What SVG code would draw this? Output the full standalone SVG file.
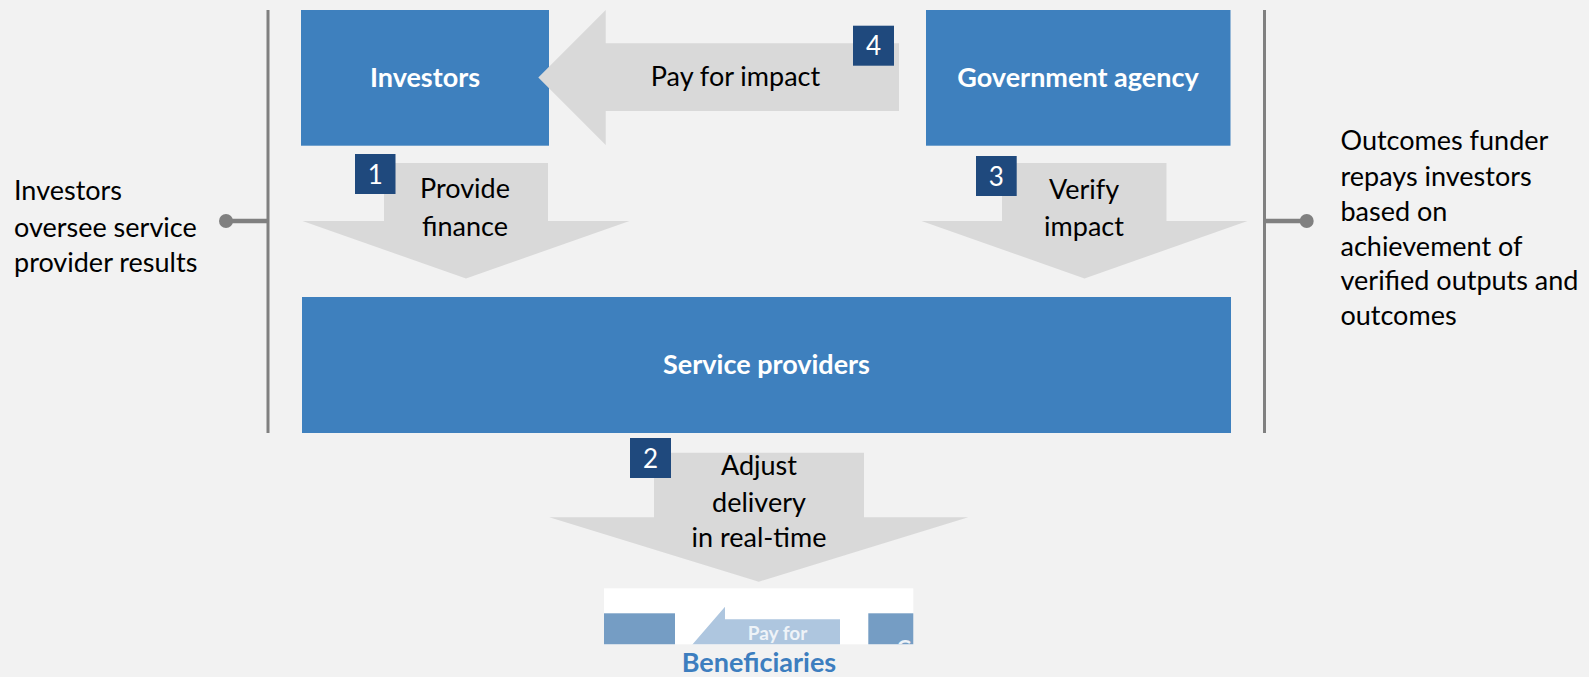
<svg xmlns="http://www.w3.org/2000/svg" width="1589" height="677" viewBox="0 0 1589 677">
<style>
.box{fill:#3e80be}
.arrow{fill:#d9d9d9}
.badge{fill:#1f497d}
.bt{font-family:Lato,"Liberation Sans",sans-serif;font-weight:bold;font-size:27px;fill:#ffffff;text-anchor:middle}
.lbl{font-family:Lato,"Liberation Sans",sans-serif;font-size:27px;fill:#000000;text-anchor:middle}
.side{font-family:Lato,"Liberation Sans",sans-serif;font-size:27px;fill:#000000}
.num{font-family:Lato,"Liberation Sans",sans-serif;font-size:26px;fill:#ffffff;text-anchor:middle}
.rule{stroke:#808080;stroke-width:3;fill:none}
.tick{stroke:#808080;stroke-width:4.5;fill:none}
.dot{fill:#808080}
</style>
<defs>
<clipPath id="thumbClip"><rect x="604" y="588.3" width="309.3" height="56"/></clipPath>
</defs>
<rect x="0" y="0" width="1589" height="677" fill="#f2f2f2"/>

<g id="investors">
<rect class="box" x="301" y="10" width="248" height="135.7"/>
<text class="bt" x="425" y="87">Investors</text>
</g>
<g id="government-agency">
<rect class="box" x="926" y="10" width="304.5" height="135.7"/>
<text class="bt" x="1078" y="87">Government agency</text>
</g>
<g id="service-providers">
<rect class="box" x="302" y="297" width="929" height="136"/>
<text class="bt" x="766.5" y="374">Service providers</text>
</g>

<g id="connectors">
<g id="arrow-4">
<polygon class="arrow" points="538.3,77.5 605.7,10 605.7,43.3 899,43.3 899,111 605.7,111 605.7,145"/>
<text class="lbl" x="735.5" y="86">Pay for impact</text>
<rect class="badge" x="853" y="25.7" width="41" height="40"/>
<text class="num" x="873.5" y="55">4</text>
</g>
<g id="arrow-1">
<polygon class="arrow" points="384,163 548,163 548,221 629.5,221 466,278.5 302.5,221 384,221"/>
<text class="lbl" x="465" y="198">Provide</text>
<text class="lbl" x="465" y="235.5">finance</text>
<rect class="badge" x="355" y="154" width="40.5" height="40"/>
<text class="num" x="375.3" y="183.5">1</text>
</g>
<g id="arrow-3">
<polygon class="arrow" points="1002,163 1166.5,163 1166.5,221 1247.5,221 1084.5,278.5 921.5,221 1002,221"/>
<text class="lbl" x="1084" y="198.5">Verify</text>
<text class="lbl" x="1084" y="235.5">impact</text>
<rect class="badge" x="976" y="156" width="40.7" height="40"/>
<text class="num" x="996.3" y="185.5">3</text>
</g>
<g id="arrow-2">
<polygon class="arrow" points="654,452.7 864,452.7 864,517.3 968.3,517.3 758.8,581.7 549.3,517.3 654,517.3"/>
<text class="lbl" x="759" y="475">Adjust</text>
<text class="lbl" x="759" y="511.5">delivery</text>
<text class="lbl" x="759" y="547">in real-time</text>
<rect class="badge" x="630" y="438" width="41" height="40"/>
<text class="num" x="650.5" y="467.5">2</text>
</g>
<g id="left-bracket">
<line class="rule" x1="268" y1="10" x2="268" y2="433"/>
<line class="tick" x1="226" y1="221" x2="268" y2="221"/>
<circle class="dot" cx="226" cy="221" r="7"/>
</g>
<g id="right-bracket">
<line class="rule" x1="1264.5" y1="10" x2="1264.5" y2="433"/>
<line class="tick" x1="1264.5" y1="221" x2="1306.7" y2="221"/>
<circle class="dot" cx="1306.7" cy="221" r="7"/>
</g>
</g>

<g id="left-note">
<text class="side" x="14" y="200">Investors</text>
<text class="side" x="14" y="236.5">oversee service</text>
<text class="side" x="14" y="272">provider results</text>
</g>
<g id="right-note">
<text class="side" x="1340.5" y="150">Outcomes funder</text>
<text class="side" x="1340.5" y="185.5">repays investors</text>
<text class="side" x="1340.5" y="220.5">based on</text>
<text class="side" x="1340.5" y="255.5">achievement of</text>
<text class="side" x="1340.5" y="289.5">verified outputs and</text>
<text class="side" x="1340.5" y="324.5">outcomes</text>
</g>

<g id="beneficiaries">
<rect x="604" y="588.3" width="309.3" height="56" fill="#ffffff"/>
<g clip-path="url(#thumbClip)">
<rect x="604" y="613.3" width="71" height="32" fill="#759dc4"/>
<polygon points="725,606.7 725,619.3 840,619.3 840,660 725,660 725,700 660,682" fill="#aec6df"/>
<text x="777.5" y="640" font-family="Lato,'Liberation Sans',sans-serif" font-weight="bold" font-size="19px" fill="#eef3f8" text-anchor="middle">Pay for</text>
<rect x="868.3" y="613.3" width="46" height="32" fill="#759dc4"/>
<text x="897" y="655" font-family="Lato,'Liberation Sans',sans-serif" font-weight="bold" font-size="20px" fill="#eef3f8">G</text>
</g>
<text x="759" y="671.5" font-family="Lato,'Liberation Sans',sans-serif" font-weight="bold" font-size="27px" fill="#3d7ebf" text-anchor="middle">Beneficiaries</text>
</g>
</svg>
